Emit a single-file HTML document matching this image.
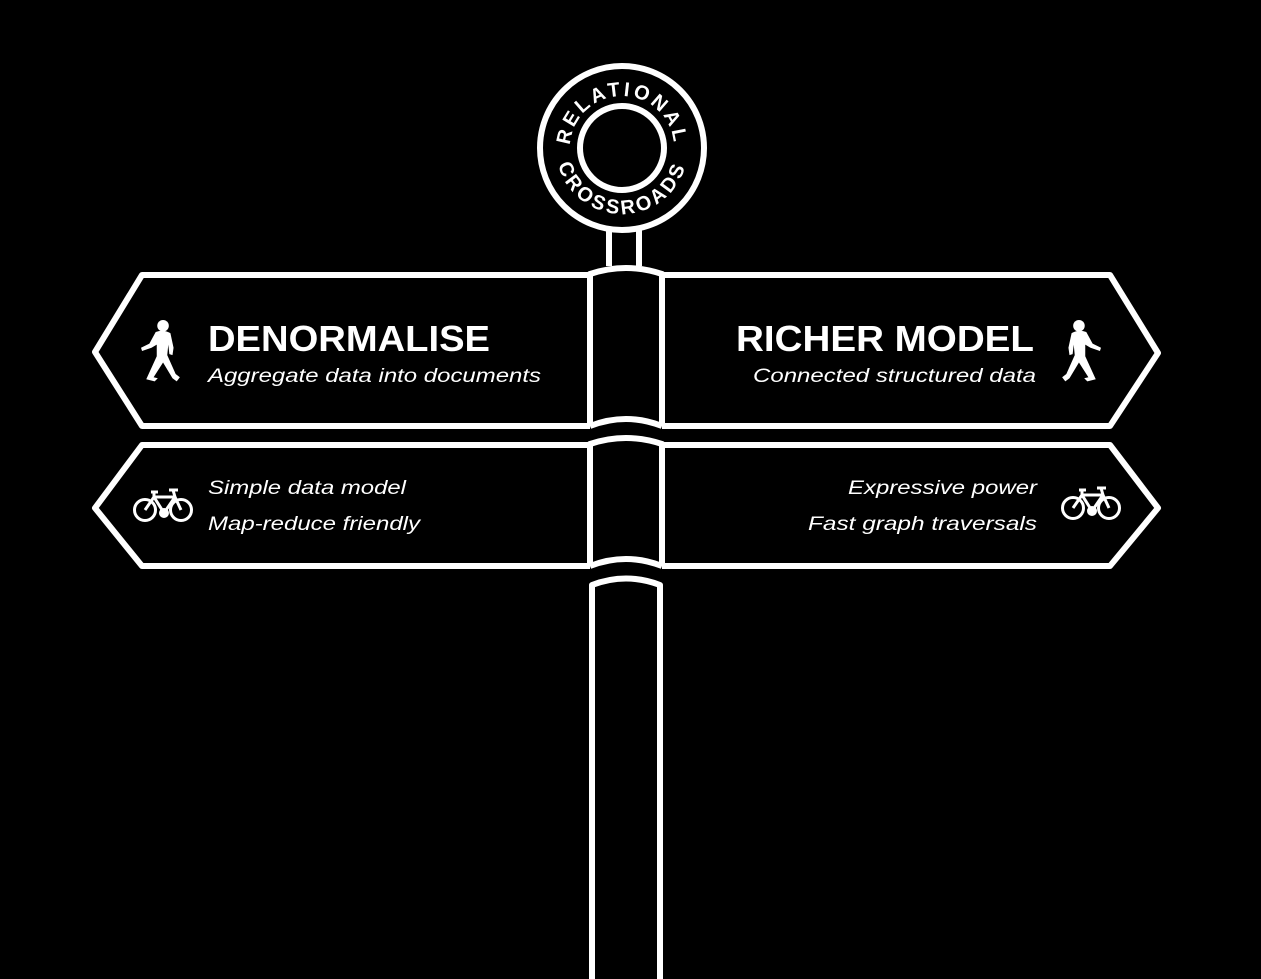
<!DOCTYPE html>
<html><head><style>html,body{margin:0;padding:0;background:#000;}svg{display:block}</style></head>
<body>
<svg width="1261" height="979" viewBox="0 0 1261 979" xmlns="http://www.w3.org/2000/svg" font-family="Liberation Sans, sans-serif">
<defs>
<g id="walker" fill="#fff">
  <circle cx="1" cy="-25" r="5.5"/>
  <path d="M-6,-19 Q1,-22 8,-18 L11,-4 L10,3 L7,2 L6,-7 L5,3 L13,21 L17,24 L14,28 L10,25 L1,10 L-8,24 L-4,25 L-7,28 L-15,26 L-5,4 L-5,-7 L-10,-4 L-19,-1 L-20,-4 L-12,-8 Z"/>
</g>
<g id="bike" fill="none" stroke="#fff" stroke-width="3">
  <circle cx="-18" cy="2" r="10.5"/>
  <circle cx="18" cy="2" r="10.5"/>
  <path d="M-18,2 L-9,-11 L12,-11 L18,2 M-9,-11 L1,5 L12,-11 M-12,-16 L-5,-16 M-9,-16 L-9,-11 M12,-11 L10,-18 M6,-18 L15,-18 M1,5 L-3,7"/>
  <circle cx="1" cy="5" r="3.5" fill="#fff"/>
</g>
<path id="arcTop" d="M570,148 A52,52 0 0 1 674,148"/>
<path id="arcBot" d="M556,148 A66,66 0 0 0 688,148"/>
</defs>
<rect width="1261" height="979" fill="#000"/>
<g fill="none" stroke="#fff" stroke-width="6" stroke-linejoin="round">
  <path d="M590,275 L142,275 L95,352 L142,426 L590,426"/>
  <path d="M590,445 L142,445 L95,508 L142,566 L590,566"/>
  <path d="M662,275 L1110,275 L1158,353 L1110,426 L662,426"/>
  <path d="M662,445 L1110,445 L1158,508 L1110,566 L662,566"/>
  <circle cx="622" cy="148" r="82"/>
  <circle cx="622" cy="148" r="42"/>
  <path d="M609,230 L609,266 M639,230 L639,266"/>
  <path d="M590,426 L590,274 Q626,262 662,274 L662,426"/>
  <path d="M590,426 Q626,412 662,426"/>
  <path d="M590,566 L590,444 Q626,432 662,444 L662,566"/>
  <path d="M590,566 Q626,552 662,566"/>
  <path d="M592,979 L592,585 Q626,572 660,585 L660,979"/>
</g>
<g fill="#fff" font-weight="bold" font-size="20" letter-spacing="3">
  <text><textPath href="#arcTop" startOffset="50%" text-anchor="middle">RELATIONAL</textPath></text>
  <text><textPath href="#arcBot" startOffset="50%" text-anchor="middle">CROSSROADS</textPath></text>
</g>
<g fill="#fff">
  <text x="208" y="351" font-size="36" font-weight="bold" textLength="282" lengthAdjust="spacingAndGlyphs">DENORMALISE</text>
  <text x="208" y="382" font-size="19" font-style="italic" textLength="333" lengthAdjust="spacingAndGlyphs">Aggregate data into documents</text>
  <text x="736" y="351" font-size="36" font-weight="bold" textLength="298" lengthAdjust="spacingAndGlyphs">RICHER MODEL</text>
  <text x="753" y="382" font-size="19" font-style="italic" textLength="283" lengthAdjust="spacingAndGlyphs">Connected structured data</text>
  <text x="208" y="494" font-size="19" font-style="italic" textLength="198" lengthAdjust="spacingAndGlyphs">Simple data model</text>
  <text x="208" y="530" font-size="19" font-style="italic" textLength="212" lengthAdjust="spacingAndGlyphs">Map-reduce friendly</text>
  <text x="848" y="494" font-size="19" font-style="italic" textLength="189" lengthAdjust="spacingAndGlyphs">Expressive power</text>
  <text x="808" y="530" font-size="19" font-style="italic" textLength="229" lengthAdjust="spacingAndGlyphs">Fast graph traversals</text>
</g>
<use href="#walker" transform="translate(162,352) scale(1.05)"/>
<use href="#walker" transform="translate(1080,352) scale(-1.05,1.05)"/>
<use href="#bike" transform="translate(163,508)"/>
<use href="#bike" transform="translate(1091,506)"/>
</svg>
</body></html>
